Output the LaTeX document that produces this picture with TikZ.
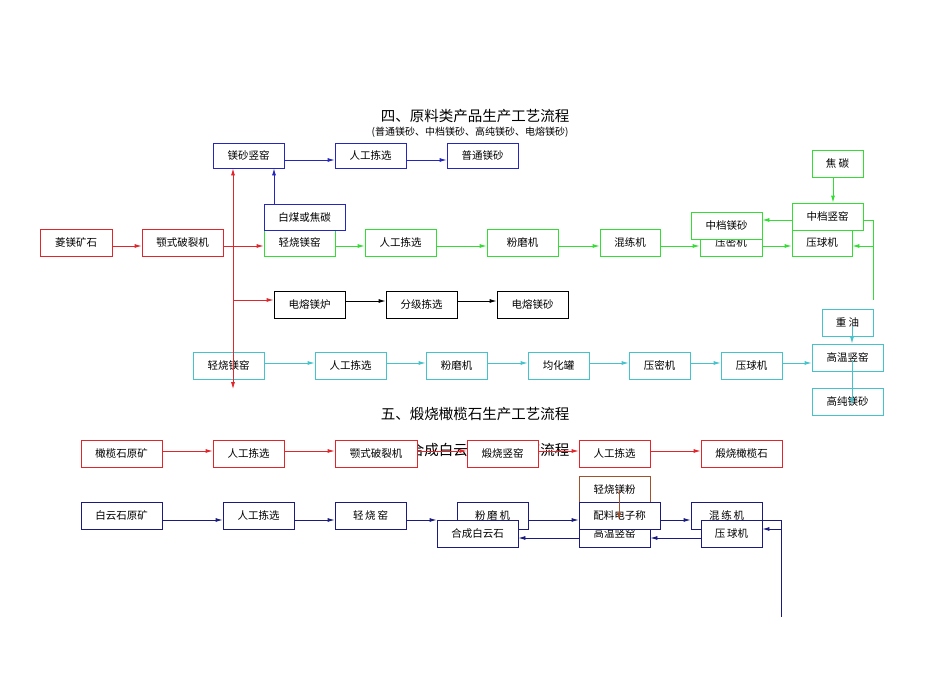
\documentclass[tikz,border=0pt]{standalone}
\usepackage{fontspec}
\setmainfont{Noto Sans CJK SC}
\usetikzlibrary{arrows.meta}
\definecolor{cr}{HTML}{E0262B}
\definecolor{cg}{HTML}{33DD33}
\definecolor{cb}{HTML}{2525C0}
\definecolor{cn}{HTML}{1A1A80}
\definecolor{cc}{HTML}{45C3CC}
\definecolor{cw}{HTML}{A0522D}
\tikzset{bx/.style={draw, fill=white, inner sep=0pt, font=\fontsize{10.5}{12}\selectfont, line width=0.8pt},
 ar/.style={-{Latex[length=7pt,width=4pt]}, line width=0.8pt}}
\newcommand\bx[7]{\node[bx,draw=#6,minimum width={(#4-#2)*1pt},minimum height={(#5-#3)*1pt}] (#1) at ({(#2+#4)/2},{(#3+#5)/2}) {#7};}
\begin{document}
\begin{tikzpicture}[x=1pt,y=-1pt]
\useasboundingbox (0,0) rectangle (950,672);
\node (t4) at (475,116) {\fontsize{14.5}{16}\selectfont 四、原料类产品生产工艺流程};
\node (t4s) at (470,132) {\fontsize{10}{11}\selectfont (普通镁砂、中档镁砂、高纯镁砂、电熔镁砂)};
\node (t5) at (475,414) {\fontsize{14.5}{16}\selectfont 五、煅烧橄榄石生产工艺流程};
\node (t6) at (475,450) {\fontsize{14.5}{16}\selectfont 六、合成白云石生产工艺流程};
% blue
\bx{ms}{213}{143}{284}{168}{cb}{镁砂竖窑}
\bx{rb}{335}{143}{406}{168}{cb}{人工拣选}
\bx{pt}{447}{143}{518}{168}{cb}{普通镁砂}
% red
\bx{lk}{40}{229}{112}{256}{cr}{菱镁矿石}
\bx{ep}{142}{229}{223}{256}{cr}{颚式破裂机}
% green
\bx{qs}{264}{229}{335}{256}{cg}{轻烧镁窑}
\bx{bm}{264}{204}{345}{230}{cb}{白煤或焦碳}
\bx{rg}{365}{229}{436}{256}{cg}{人工拣选}
\bx{fg}{487}{229}{558}{256}{cg}{粉磨机}
\bx{hg}{600}{229}{660}{256}{cg}{混练机}
\bx{ym}{700}{229}{762}{256}{cg}{压密机}
\bx{zd}{691}{212}{762}{239}{cg}{中档镁砂}
\bx{yq}{792}{229}{852}{256}{cg}{压球机}
\bx{zs}{792}{203}{863}{230}{cg}{中档竖窑}
\bx{jt}{812}{150}{863}{177}{cg}{焦\ 碳}
% black
\bx{dl}{274}{291}{345}{318}{black}{电熔镁炉}
\bx{fj}{386}{291}{457}{318}{black}{分级拣选}
\bx{ds}{497}{291}{568}{318}{black}{电熔镁砂}
% cyan
\bx{qc}{193}{352}{264}{379}{cc}{轻烧镁窑}
\bx{rc}{315}{352}{386}{379}{cc}{人工拣选}
\bx{fc}{426}{352}{487}{379}{cc}{粉磨机}
\bx{jh}{528}{352}{589}{379}{cc}{均化罐}
\bx{mc}{629}{352}{690}{379}{cc}{压密机}
\bx{qq}{721}{352}{782}{379}{cc}{压球机}
\bx{zy}{822}{309}{873}{336}{cc}{重\ 油}
\bx{gw}{812}{344}{883}{371}{cc}{高温竖窑}
\bx{gc}{812}{388}{883}{415}{cc}{高纯镁砂}
% section 5
\bx{g1}{81}{440}{162}{467}{cr}{橄榄石原矿}
\bx{g2}{213}{440}{284}{467}{cr}{人工拣选}
\bx{g3}{335}{440}{417}{467}{cr}{颚式破裂机}
\bx{g4}{467}{440}{538}{467}{cr}{煅烧竖窑}
\bx{g5}{579}{440}{650}{467}{cr}{人工拣选}
\bx{g6}{701}{440}{782}{467}{cr}{煅烧橄榄石}
% section 6
\bx{b1}{81}{502}{162}{529}{cn}{白云石原矿}
\bx{b2}{223}{502}{294}{529}{cn}{人工拣选}
\bx{b3}{335}{502}{406}{529}{cn}{轻\,烧\,窑}
\bx{b4}{457}{502}{528}{529}{cn}{粉\,磨\,机}
\bx{b5}{437}{520}{518}{547}{cn}{合成白云石}
\bx{b6}{579}{476}{650}{503}{cw}{轻烧镁粉}
\bx{b8}{579}{520}{650}{547}{cn}{高温竖窑}
\bx{b7}{579}{502}{660}{529}{cn}{配料电子称}
\bx{b9}{691}{502}{762}{529}{cn}{混\,练\,机}
\bx{b10}{701}{520}{762}{547}{cn}{压\,球机}
% arrows blue
\draw[ar,cb] (ms.east|-0,160) -- (rb.west|-0,160);
\draw[ar,cb] (rb.east|-0,160) -- (pt.west|-0,160);
\draw[ar,cb] (bm.north-|274,0) -- (ms.south-|274,0);
% red
\draw[ar,cr] (lk.east|-0,246) -- (ep.west|-0,246);
\draw[ar,cr] (ep.east|-0,246) -- (qs.west|-0,246);
\draw[ar,cr] (233,300) -- (ms.south-|233,0);
\draw[ar,cr] (233,300) -- (233,389);
\draw[ar,cr] (233,300) -- (dl.west|-0,300);
% green
\foreach \a/\b in {qs/rg,rg/fg,fg/hg,hg/ym,ym/yq} \draw[ar,cg] (\a.east|-0,246) -- (\b.west|-0,246);
\draw[ar,cg] (jt.south-|833,0) -- (zs.north-|833,0);
\draw[ar,cg] (zs.west|-0,220) -- (zd.east|-0,220);
\draw[cg,line width=0.8pt] (zs.east|-0,220) -- (873,220) -- (873,300);
\draw[ar,cg] (873,246) -- (yq.east|-0,246);
% black
\draw[ar] (dl.east|-0,301) -- (fj.west|-0,301);
\draw[ar] (fj.east|-0,301) -- (ds.west|-0,301);
% cyan
\foreach \a/\b in {qc/rc,rc/fc,fc/jh,jh/mc,mc/qq,qq/gw} \draw[ar,cc] (\a.east|-0,363) -- (\b.west|-0,363);
\draw[ar,cc] (852,326) -- (gw.north-|852,0);
\draw[ar,cc] (852,360) -- (852,405);
% section 5
\foreach \a/\b in {g1/g2,g2/g3,g3/g4,g4/g5,g5/g6} \draw[ar,cr] (\a.east|-0,451) -- (\b.west|-0,451);
% section 6
\draw[ar,cn] (b1.east|-0,520) -- (b2.west|-0,520);
\draw[ar,cn] (b2.east|-0,520) -- (b3.west|-0,520);
\draw[ar,cn] (b3.east|-0,520) -- (b5.west|-0,520);
\draw[ar,cn] (b4.east|-0,520) -- (b7.west|-0,520);
\draw[ar,cn] (b7.east|-0,520) -- (b9.west|-0,520);
\draw[ar,cn] (b8.west|-0,538) -- (b5.east|-0,538);
\draw[ar,cn] (b10.west|-0,538) -- (b8.east|-0,538);
\draw[cn,line width=0.8pt] (b9.east|-0,520) -- (781,520) -- (781,617);
\draw[ar,cn] (781,529) -- (b10.east|-0,529);
\draw[ar,cw] (b6.center-|619,0) -- (619,520);
\end{tikzpicture}
\end{document}
